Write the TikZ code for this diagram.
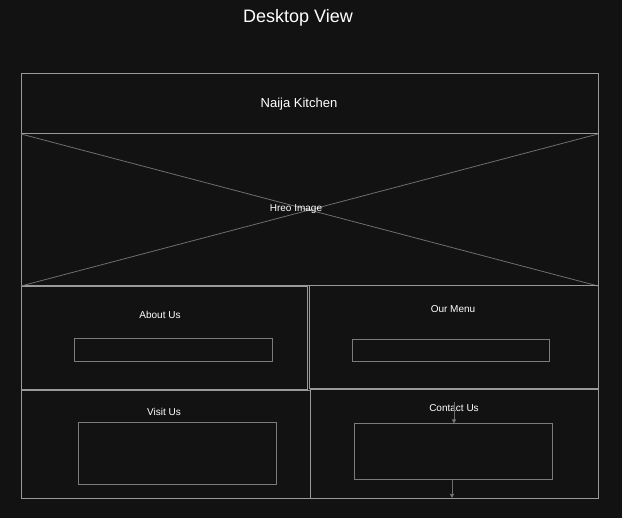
\documentclass[tikz,border=0pt]{standalone}
\usepackage{fontspec}
\setmainfont{Liberation Sans}
\usetikzlibrary{arrows.meta}
\definecolor{bg}{HTML}{121212}
\definecolor{edge}{HTML}{9A9A9A}
\definecolor{edgedim}{HTML}{6E6E6E}
\begin{document}
\begin{tikzpicture}[x=1pt,y=-1pt,
  frame/.style={draw=edge,line width=1pt},
  inner/.style={draw=edgedim!70!edge,line width=1pt},
  lbl/.style={text=white,font=\fontsize{10}{12}\selectfont,inner sep=0pt},
  conn/.style={draw=edgedim,line width=1pt,-{Triangle[length=4pt,width=4pt,fill=white!85!black]}}]
\useasboundingbox[fill=bg] (0,0) rectangle (622,518);
\node[text=white,font=\fontsize{18}{20}\selectfont,inner sep=0pt] (title) at (298,18) {Desktop View};
% header
\draw[frame] (21,74) rectangle (598,134);
\node[lbl,font=\fontsize{13}{15}\selectfont] (brand) at (299,104.5) {Naija Kitchen};
% hero
\draw[frame] (21,134) rectangle (598,286);
\draw[draw=edgedim,line width=0.8pt] (21,134) -- (598,286);
\draw[draw=edgedim,line width=0.8pt] (21,286) -- (598,134);
\node[lbl] (hero) at (296,209.5) {Hreo Image};
% about
\draw[frame] (21,287) rectangle (307,390);
\node[lbl] (about) at (160,314.5) {About Us};
\draw[inner] (74,339) rectangle (272,362);
% menu
\draw[frame] (309,286) rectangle (598,389);
\node[lbl] (menu) at (453,309.5) {Our Menu};
\draw[inner] (352,340) rectangle (549,362);
% visit
\draw[frame] (21,391) rectangle (310,499);
\node[lbl] (visit) at (164,411.5) {Visit Us};
\draw[inner] (78,423) rectangle (276,485);
% contact
\draw[frame] (310,390) rectangle (598,499);
\node[lbl] (contact) at (454,408.5) {Contact Us};
\node[inner,minimum width=198pt,minimum height=56pt,inner sep=0pt] (cbox) at (453,452) {};
\coordinate (cbot) at (452,498);
\coordinate (ctop) at (454,402);
\draw[conn] (ctop) -- (cbox.north -| ctop);
\draw[conn] (cbox.south -| cbot) -- (cbot);
\end{tikzpicture}
\end{document}
